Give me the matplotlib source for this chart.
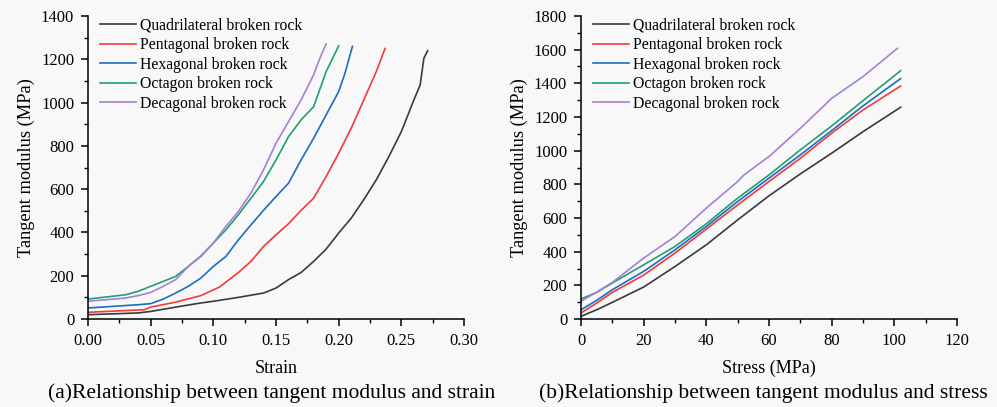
import numpy as np
import matplotlib

matplotlib.use('Agg')
import matplotlib.pyplot as plt
from matplotlib.ticker import MultipleLocator

plt.rcParams['font.family'] = ['Liberation Serif', 'DejaVu Serif']

names = ['Quadrilateral broken rock', 'Pentagonal broken rock', 'Hexagonal broken rock',
         'Octagon broken rock', 'Decagonal broken rock']
colors = ['#3a3a3a', '#f23a3a', '#1d6cc4', '#1fa070', '#a77fd4']

# (a) tangent modulus vs strain
quad_strain = [0, 0.04, 0.05, 0.07, 0.09, 0.10, 0.12, 0.14, 0.15, 0.16, 0.17, 0.18, 0.19,
               0.20, 0.21, 0.22, 0.23, 0.24, 0.25, 0.26, 0.265, 0.268, 0.271]
quad_mod = [20, 28, 35, 55, 74, 82, 100, 120, 143, 182, 215, 266, 323,
            397, 466, 551, 643, 750, 866, 1012, 1081, 1205, 1240]
pent_strain = [0, 0.045, 0.05, 0.07, 0.09, 0.105, 0.12, 0.13, 0.14, 0.15, 0.16, 0.17,
               0.18, 0.19, 0.20, 0.21, 0.22, 0.23, 0.237]
pent_mod = [31, 43, 55, 78, 108, 148, 215, 266, 335, 389, 440, 502,
            558, 658, 766, 882, 1012, 1143, 1250]
hexa_strain = [0, 0.04, 0.05, 0.06, 0.07, 0.08, 0.09, 0.10, 0.11, 0.12, 0.13, 0.14,
               0.15, 0.16, 0.17, 0.18, 0.19, 0.20, 0.205, 0.211]
hexa_mod = [51, 66, 71, 92, 120, 151, 189, 243, 289, 366, 435, 502,
            566, 628, 735, 835, 943, 1051, 1135, 1260]
octa_strain = [0, 0.03, 0.04, 0.05, 0.06, 0.07, 0.08, 0.09, 0.10, 0.11, 0.12, 0.13,
               0.14, 0.15, 0.16, 0.17, 0.18, 0.19, 0.20]
octa_mod = [92, 112, 128, 151, 174, 197, 243, 289, 351, 412, 482, 558,
            635, 735, 843, 920, 981, 1143, 1262]
deca_strain = [0, 0.03, 0.04, 0.05, 0.06, 0.07, 0.08, 0.09, 0.10, 0.11, 0.12, 0.13,
               0.14, 0.15, 0.16, 0.17, 0.18, 0.185, 0.19]
deca_mod = [82, 97, 108, 123, 151, 182, 243, 292, 351, 428, 497, 582,
            689, 812, 912, 1012, 1128, 1205, 1271]

# (b) tangent modulus vs stress
stress = [0, 5, 10, 20, 30, 40, 50, 60, 70, 80, 90, 102]
quad_b = [16, 55, 99, 190, 312, 441, 589, 732, 862, 985, 1113, 1258]
pent_b = [36, 95, 158, 261, 392, 534, 678, 817, 955, 1104, 1242, 1384]
hexa_b = [55, 111, 174, 283, 411, 550, 698, 837, 975, 1119, 1266, 1428]
octa_b = [119, 158, 214, 322, 431, 566, 718, 856, 1005, 1147, 1297, 1475]
deca_stress = [0, 5, 10, 20, 30, 40, 50, 52, 60, 70, 80, 90, 101]
deca_b = [105, 160, 218, 362, 490, 659, 817, 856, 965, 1133, 1311, 1440, 1608]

fig = plt.figure(figsize=(9.97, 4.07), dpi=100, facecolor='#f8f8f8')
ax1 = fig.add_axes([0.0883, 0.2162, 0.3771, 0.7445])
ax2 = fig.add_axes([0.5828, 0.2162, 0.3771, 0.7445])

series_a = [(quad_strain, quad_mod), (pent_strain, pent_mod), (hexa_strain, hexa_mod),
            (octa_strain, octa_mod), (deca_strain, deca_mod)]
series_b = [(stress, quad_b), (stress, pent_b), (stress, hexa_b),
            (stress, octa_b), (deca_stress, deca_b)]

for (x, y), c, n in zip(series_a, colors, names):
    ax1.plot(x, y, color=c, lw=1.2, label=n)
for (x, y), c, n in zip(series_b, colors, names):
    ax2.plot(x, y, color=c, lw=1.2, label=n)

ax1.set_xlim(0, 0.30)
ax1.set_ylim(0, 1400)
ax1.xaxis.set_major_locator(MultipleLocator(0.05))
ax1.xaxis.set_minor_locator(MultipleLocator(0.025))
ax1.yaxis.set_major_locator(MultipleLocator(200))
ax1.yaxis.set_minor_locator(MultipleLocator(100))
ax1.xaxis.set_major_formatter(plt.FormatStrFormatter('%.2f'))
ax1.set_xlabel('Strain', fontsize=13, labelpad=8)

ax2.set_xlim(0, 120)
ax2.set_ylim(0, 1800)
ax2.xaxis.set_major_locator(MultipleLocator(20))
ax2.xaxis.set_minor_locator(MultipleLocator(10))
ax2.yaxis.set_major_locator(MultipleLocator(200))
ax2.yaxis.set_minor_locator(MultipleLocator(100))
ax2.set_xlabel('Stress (MPa)', fontsize=13, labelpad=8)

for ax in (ax1, ax2):
    ax.set_facecolor('#f8f8f8')
    ax.spines['top'].set_visible(False)
    ax.spines['right'].set_visible(False)
    for s in ('left', 'bottom'):
        ax.spines[s].set_linewidth(1.1)
    ax.tick_params(which='major', direction='out', length=5, width=1.1, labelsize=12, pad=5)
    ax.tick_params(which='minor', direction='out', length=3, width=1.0)
    ax.set_ylabel('Tangent modulus (MPa)', fontsize=13.2, labelpad=4)
    ax.legend(loc='upper left', frameon=False, fontsize=11.3, handlelength=2.3,
              labelspacing=0.22, handletextpad=0.3, borderaxespad=0.1,
              bbox_to_anchor=(0.01, 1.02))

fig.text(0.272, 0.034, '(a)Relationship between tangent modulus and strain',
         ha='center', va='center', fontsize=15.5)
fig.text(0.766, 0.034, '(b)Relationship between tangent modulus and stress',
         ha='center', va='center', fontsize=15.5)

fig.savefig('out.png', dpi=100, facecolor=fig.get_facecolor())
